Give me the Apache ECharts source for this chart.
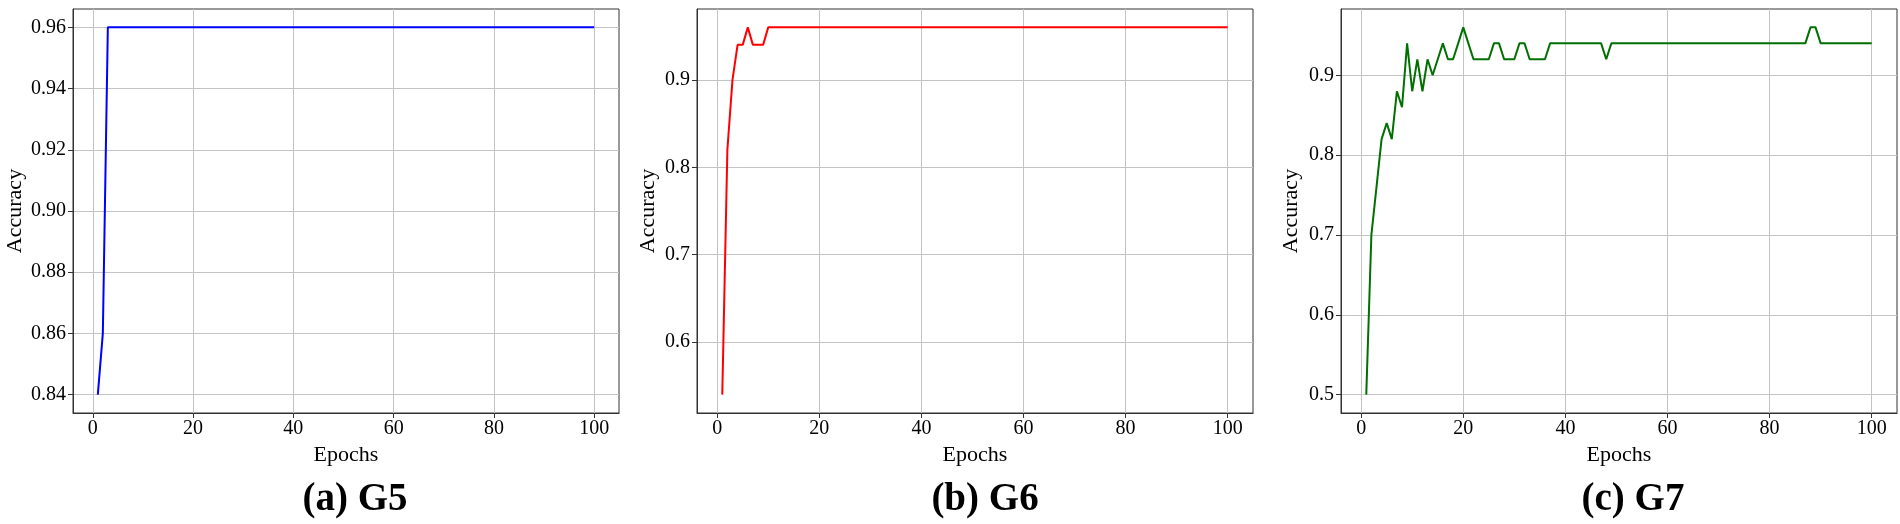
<!DOCTYPE html>
<html>
<head>
<meta charset="utf-8">
<title>Accuracy vs Epochs</title>
<script src="https://cdn.jsdelivr.net/npm/echarts@6/dist/echarts.min.js"></script>
<style>
  html, body { margin: 0; padding: 0; background: #fff; }
  #my-charts { width: 1900px; height: 524px; }
</style>
</head>
<body>
<div id="my-charts"></div>
<script>
// accuracy per epoch (epochs 1..100)
var accG5 = [
  0.84, 0.86, 0.96, 0.96, 0.96, 0.96, 0.96, 0.96, 0.96, 0.96,
  0.96, 0.96, 0.96, 0.96, 0.96, 0.96, 0.96, 0.96, 0.96, 0.96,
  0.96, 0.96, 0.96, 0.96, 0.96, 0.96, 0.96, 0.96, 0.96, 0.96,
  0.96, 0.96, 0.96, 0.96, 0.96, 0.96, 0.96, 0.96, 0.96, 0.96,
  0.96, 0.96, 0.96, 0.96, 0.96, 0.96, 0.96, 0.96, 0.96, 0.96,
  0.96, 0.96, 0.96, 0.96, 0.96, 0.96, 0.96, 0.96, 0.96, 0.96,
  0.96, 0.96, 0.96, 0.96, 0.96, 0.96, 0.96, 0.96, 0.96, 0.96,
  0.96, 0.96, 0.96, 0.96, 0.96, 0.96, 0.96, 0.96, 0.96, 0.96,
  0.96, 0.96, 0.96, 0.96, 0.96, 0.96, 0.96, 0.96, 0.96, 0.96,
  0.96, 0.96, 0.96, 0.96, 0.96, 0.96, 0.96, 0.96, 0.96, 0.96
];
var accG6 = [
  0.54, 0.82, 0.90, 0.94, 0.94, 0.96, 0.94, 0.94, 0.94, 0.96,
  0.96, 0.96, 0.96, 0.96, 0.96, 0.96, 0.96, 0.96, 0.96, 0.96,
  0.96, 0.96, 0.96, 0.96, 0.96, 0.96, 0.96, 0.96, 0.96, 0.96,
  0.96, 0.96, 0.96, 0.96, 0.96, 0.96, 0.96, 0.96, 0.96, 0.96,
  0.96, 0.96, 0.96, 0.96, 0.96, 0.96, 0.96, 0.96, 0.96, 0.96,
  0.96, 0.96, 0.96, 0.96, 0.96, 0.96, 0.96, 0.96, 0.96, 0.96,
  0.96, 0.96, 0.96, 0.96, 0.96, 0.96, 0.96, 0.96, 0.96, 0.96,
  0.96, 0.96, 0.96, 0.96, 0.96, 0.96, 0.96, 0.96, 0.96, 0.96,
  0.96, 0.96, 0.96, 0.96, 0.96, 0.96, 0.96, 0.96, 0.96, 0.96,
  0.96, 0.96, 0.96, 0.96, 0.96, 0.96, 0.96, 0.96, 0.96, 0.96
];
var accG7 = [
  0.50, 0.70, 0.76, 0.82, 0.84, 0.82, 0.88, 0.86, 0.94, 0.88,
  0.92, 0.88, 0.92, 0.90, 0.92, 0.94, 0.92, 0.92, 0.94, 0.96,
  0.94, 0.92, 0.92, 0.92, 0.92, 0.94, 0.94, 0.92, 0.92, 0.92,
  0.94, 0.94, 0.92, 0.92, 0.92, 0.92, 0.94, 0.94, 0.94, 0.94,
  0.94, 0.94, 0.94, 0.94, 0.94, 0.94, 0.94, 0.92, 0.94, 0.94,
  0.94, 0.94, 0.94, 0.94, 0.94, 0.94, 0.94, 0.94, 0.94, 0.94,
  0.94, 0.94, 0.94, 0.94, 0.94, 0.94, 0.94, 0.94, 0.94, 0.94,
  0.94, 0.94, 0.94, 0.94, 0.94, 0.94, 0.94, 0.94, 0.94, 0.94,
  0.94, 0.94, 0.94, 0.94, 0.94, 0.94, 0.94, 0.96, 0.96, 0.94,
  0.94, 0.94, 0.94, 0.94, 0.94, 0.94, 0.94, 0.94, 0.94, 0.94
];

var xTicks = [0, 20, 40, 60, 80, 100];
var yTicksG5 = [0.84, 0.86, 0.88, 0.90, 0.92, 0.94, 0.96];
var yTicksG6 = [0.6, 0.7, 0.8, 0.9];
var yTicksG7 = [0.5, 0.6, 0.7, 0.8, 0.9];
var captions = ["(a) G5", "(b) G6", "(c) G7"];

var FONT = "'Liberation Serif', 'Times New Roman', serif";

// layout of the three panels (px)
var panels = [
  { left: 73, width: 546, yMin: 0.834, yMax: 0.966, yTicks: yTicksG5, digits: 2, nameGap: 47, color: "#0000ff", data: accG5, capX: 350 },
  { left: 697, width: 556, yMin: 0.519, yMax: 0.981, yTicks: yTicksG6, digits: 1, nameGap: 38, color: "#ff0000", data: accG6, capX: 980 },
  { left: 1341, width: 556, yMin: 0.477, yMax: 0.983, yTicks: yTicksG7, digits: 1, nameGap: 39, color: "#007000", data: accG7, capX: 1628 }
];

function toPairs(arr) {
  return arr.map(function (v, i) { return [i + 1, v]; });
}

var chartDom = echarts.init(document.getElementById("my-charts"));

var grids = [], xAxes = [], yAxes = [], series = [], titles = [];
panels.forEach(function (p, i) {
  grids.push({
    left: p.left,
    top: 9,
    width: p.width,
    height: 404,
    show: true,
    borderColor: "#333",
    borderWidth: 1,
    containLabel: false
  });
  xAxes.push({
    type: "value",
    gridIndex: i,
    min: -3.95,
    max: 104.95,
    name: "Epochs",
    nameLocation: "middle",
    nameGap: 28,
    nameTextStyle: { fontFamily: FONT, fontSize: 22, color: "#000" },
    axisLine: { show: true, onZero: false, lineStyle: { color: "#333", width: 1 } },
    axisTick: { show: true, length: 5, customValues: xTicks, lineStyle: { color: "#333" } },
    axisLabel: { customValues: xTicks, fontFamily: FONT, fontSize: 20, color: "#000", margin: 6 },
    splitLine: { show: true, lineStyle: { color: "#c4c4c4", width: 1 } }
  });
  yAxes.push({
    type: "value",
    gridIndex: i,
    min: p.yMin,
    max: p.yMax,
    name: "Accuracy",
    nameLocation: "middle",
    nameGap: p.nameGap,
    nameTextStyle: { fontFamily: FONT, fontSize: 22, color: "#000" },
    axisLine: { show: true, onZero: false, lineStyle: { color: "#333", width: 1 } },
    axisTick: { show: true, length: 5, customValues: p.yTicks, lineStyle: { color: "#333" } },
    axisLabel: {
      customValues: p.yTicks,
      fontFamily: FONT,
      fontSize: 20,
      color: "#000",
      margin: 7,
      formatter: (function (d) { return function (v) { return v.toFixed(d); }; })(p.digits)
    },
    splitLine: { show: true, lineStyle: { color: "#c4c4c4", width: 1 } }
  });
  series.push({
    type: "line",
    xAxisIndex: i,
    yAxisIndex: i,
    showSymbol: false,
    symbol: "none",
    smooth: false,
    lineStyle: { color: p.color, width: 2 },
    itemStyle: { color: p.color },
    data: toPairs(p.data)
  });
  titles.push({
    text: captions[i],
    left: p.capX,
    top: 475,
    textAlign: "center",
    textStyle: { fontFamily: FONT, fontSize: 39, fontWeight: "bold", color: "#000" }
  });
});

chartDom.setOption({
  animation: false,
  backgroundColor: "#fff",
  title: titles,
  grid: grids,
  xAxis: xAxes,
  yAxis: yAxes,
  series: series
});
</script>
</body>
</html>
